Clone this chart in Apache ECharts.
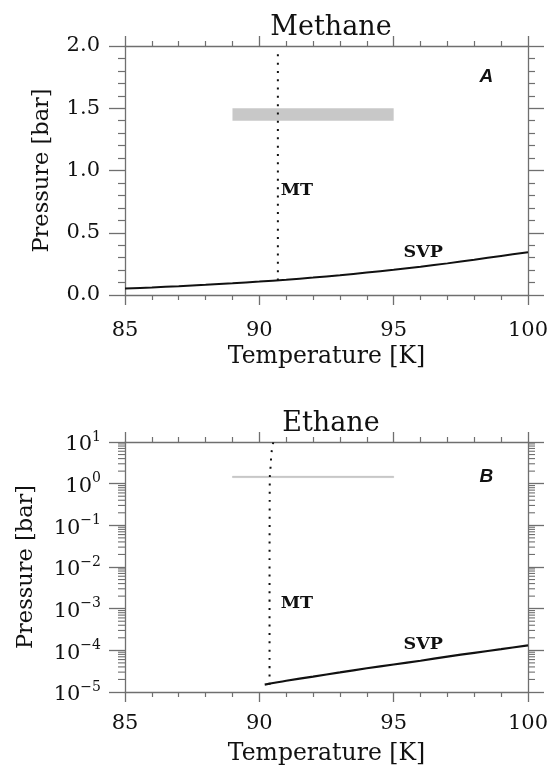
<!DOCTYPE html>
<html><head><meta charset="utf-8">
<script src="https://cdn.jsdelivr.net/npm/echarts@6/dist/echarts.min.js"></script>
<style>html,body{margin:0;padding:0;background:#fff}#c{width:556px;height:766px}</style>
</head><body><div id="c"></div>
<script>
// ---- data ----
const titles = ['Methane', 'Ethane'];
const xName = 'Temperature [K]';
const yName = 'Pressure [bar]';
const xTicks = [85, 90, 95, 100];
const ch4Ticks = [0.0, 0.5, 1.0, 1.5, 2.0];
const c2h6Decades = [-5, -4, -3, -2, -1, 0, 1];
const minorMultipliers = [2, 3, 4, 5, 6, 7, 8, 9];

// Methane saturation vapour pressure (SVP)
const ch4SvpT = [85, 86, 87, 88, 89, 90, 91, 92, 93, 94, 95, 96, 97, 98, 99, 100];
const ch4SvpP = [0.052, 0.061, 0.071, 0.082, 0.094, 0.108, 0.123, 0.140, 0.159, 0.180, 0.202, 0.227, 0.254, 0.283, 0.314, 0.344];
// Methane melting temperature (MT)
const ch4MtT = [90.69, 90.69];
const ch4MtP = [0.117, 1.97];

// Ethane SVP
const c2h6SvpT = [90.2, 91, 92, 93, 94, 95, 96, 97, 98, 99, 100];
const c2h6SvpP = [1.51e-5, 1.86e-5, 2.34e-5, 2.95e-5, 3.72e-5, 4.57e-5, 5.62e-5, 7.08e-5, 8.71e-5, 1.07e-4, 1.32e-4];
// Ethane MT
const c2h6MtT = [90.38, 90.38, 90.385, 90.39, 90.41, 90.43, 90.45, 90.50, 90.52];
const c2h6MtP = [1.5e-5, 1e-2, 0.3, 1.36, 2.1, 3.4, 5.3, 8.5, 9.8];

// Surface condition band
const bandT = [89, 95];
const bandP = [1.4, 1.5];

// annotations: [text, T, P]
const ch4Notes = [['MT', 91.4, 0.84], ['SVP', 96.1, 0.345]];
const c2h6Notes = [['MT', 91.4, 1.35e-3], ['SVP', 96.1, 1.4e-4]];
const panelLetters = [['A', 98.45, 1.75], ['B', 98.45, 1.5]];

// ---- chart ----
const FONT = 'DejaVu Serif';
const AX = '#6f6f6f';
const INK = '#111';

function zip(a, b) { return a.map((v, i) => [v, b[i]]); }

function xAxis(grid, pos, labels, margin, gap) {
  return {
    type: 'value', gridIndex: grid, position: pos, min: xTicks[0], max: xTicks[xTicks.length - 1], interval: 5,
    axisLine: { show: true, onZero: false, lineStyle: { color: AX, width: 1.3 } },
    axisTick: { show: true, inside: false, length: 10, lineStyle: { color: AX, width: 1.3 } },
    minorTick: { show: true, splitNumber: 5, length: 5, lineStyle: { color: AX, width: 1.2 } },
    splitLine: { show: false }, minorSplitLine: { show: false },
    axisLabel: { show: labels, margin: margin, fontFamily: FONT, fontSize: 21, lineHeight: 21, color: INK },
    name: labels ? xName : '', nameLocation: 'middle', nameGap: gap,
    nameTextStyle: { fontFamily: FONT, fontSize: 23.5, color: INK }
  };
}
function yLin(grid, pos, labels) {
  return {
    type: 'value', gridIndex: grid, position: pos, min: ch4Ticks[0], max: ch4Ticks[ch4Ticks.length - 1], interval: 0.5,
    axisLine: { show: true, onZero: false, lineStyle: { color: AX, width: 1.3 } },
    axisTick: { show: true, inside: false, length: 16, lineStyle: { color: AX, width: 1.3 } },
    minorTick: { show: true, splitNumber: 5, length: 7, lineStyle: { color: AX, width: 1.2 } },
    splitLine: { show: false }, minorSplitLine: { show: false },
    axisLabel: { show: labels, margin: 25, fontFamily: FONT, fontSize: 21, color: INK, formatter: v => v.toFixed(1) },
    name: labels ? yName : '', nameLocation: 'middle', nameGap: 71, nameRotate: 90,
    nameTextStyle: { fontFamily: FONT, fontSize: 22.5, color: INK }
  };
}
function yLog(grid, pos, labels) {
  return {
    type: 'log', logBase: 10, gridIndex: grid, position: pos,
    min: Math.pow(10, c2h6Decades[0]), max: Math.pow(10, c2h6Decades[c2h6Decades.length - 1]), splitNumber: 6,
    axisLine: { show: true, onZero: false, lineStyle: { color: AX, width: 1.3 } },
    axisTick: { show: true, inside: false, length: 16, lineStyle: { color: AX, width: 1.3 } },
    splitLine: { show: false },
    axisLabel: {
      show: labels, margin: 24, showMinLabel: true, showMaxLabel: true,
      padding: [6, 0, 0, 0],
      formatter: v => { const e = Math.round(Math.log10(v)); return '{b|10}{s|' + (e < 0 ? '\u2212' + (-e) : e) + '}'; },
      rich: {
        b: { fontFamily: FONT, fontSize: 21, lineHeight: 30, color: INK },
        s: { fontFamily: FONT, fontSize: 14, lineHeight: 14, verticalAlign: 'top', color: INK }
      }
    },
    name: labels ? yName : '', nameLocation: 'middle', nameGap: 87, nameRotate: 90,
    nameTextStyle: { fontFamily: FONT, fontSize: 22.5, color: INK }
  };
}

const minorTickVals = [];
c2h6Decades.slice(0, -1).forEach(d => minorMultipliers.forEach(m => minorTickVals.push([xTicks[0], m * Math.pow(10, d)])));

const dotted = { color: INK, width: 2, type: [2, 6.3], cap: 'butt' };

const option = {
  animation: false,
  backgroundColor: '#fff',
  title: [
    { text: titles[0], left: 326, top: 9, textAlign: 'center', textStyle: { fontFamily: FONT, fontSize: 27, fontWeight: 'normal', color: INK } },
    { text: titles[1], left: 326, top: 405, textAlign: 'center', textStyle: { fontFamily: FONT, fontSize: 27, fontWeight: 'normal', color: INK } }
  ],
  grid: [
    { left: 125, top: 46, width: 403, height: 249, outerBoundsMode: 'none' },
    { left: 125, top: 442, width: 403, height: 250, outerBoundsMode: 'none' }
  ],
  xAxis: [xAxis(0, 'bottom', true, 25, 50), xAxis(0, 'top', false, 8, 0), xAxis(1, 'bottom', true, 21, 50), xAxis(1, 'top', false, 8, 0)],
  yAxis: [yLin(0, 'left', true), yLin(0, 'right', false), yLog(1, 'left', true), yLog(1, 'right', false)],
  series: [
    { type: 'line', xAxisIndex: 0, yAxisIndex: 0, data: [], silent: true,
      markArea: { silent: true, itemStyle: { color: '#c8c8c8' }, data: [[{ coord: [bandT[0], bandP[0]] }, { coord: [bandT[1], bandP[1]] }]] } },
    { type: 'line', xAxisIndex: 0, yAxisIndex: 0, data: zip(ch4SvpT, ch4SvpP), showSymbol: false, smooth: 0.3, silent: true, lineStyle: { color: INK, width: 2 } },
    { type: 'line', xAxisIndex: 0, yAxisIndex: 0, data: zip(ch4MtT, ch4MtP), showSymbol: false, silent: true, lineStyle: dotted },

    { type: 'line', xAxisIndex: 2, yAxisIndex: 2, data: [], silent: true,
      markArea: { silent: true, itemStyle: { color: '#c0c0c0', borderColor: '#c0c0c0', borderWidth: 0.6 }, data: [[{ coord: [bandT[0], bandP[0]] }, { coord: [bandT[1], bandP[1]] }]] } },
    { type: 'line', xAxisIndex: 2, yAxisIndex: 2, data: zip(c2h6SvpT, c2h6SvpP), showSymbol: false, smooth: 0.3, silent: true, lineStyle: { color: INK, width: 2.2 } },
    { type: 'line', xAxisIndex: 2, yAxisIndex: 2, data: zip(c2h6MtT, c2h6MtP), showSymbol: false, smooth: 0.4, silent: true, lineStyle: dotted },
    { type: 'custom', xAxisIndex: 2, yAxisIndex: 2, silent: true, clip: false, data: minorTickVals,
      renderItem: (params, api) => {
        const v = api.value(1);
        const pL = api.coord([xTicks[0], v]);
        const pR = api.coord([xTicks[xTicks.length - 1], v]);
        const st = { stroke: AX, lineWidth: 1.1 };
        return { type: 'group', children: [
          { type: 'line', shape: { x1: pL[0] - 7, y1: pL[1], x2: pL[0], y2: pL[1] }, style: st },
          { type: 'line', shape: { x1: pR[0], y1: pR[1], x2: pR[0] + 7, y2: pR[1] }, style: st }
        ] };
      } }
  ]
};
const chart = echarts.init(document.getElementById('c'), null, { renderer: 'canvas' });
chart.setOption(option);

// text annotations placed through the axes' own scales
function textEl(note, xi, yi, font) {
  const p = chart.convertToPixel({ xAxisIndex: xi, yAxisIndex: yi }, [note[1], note[2]]);
  return { type: 'text', x: p[0], y: p[1], z: 100, silent: true,
    style: { text: note[0], font: font, fill: INK, align: 'center', verticalAlign: 'middle' } };
}
const noteFont = 'bold 17.5px "DejaVu Serif"';
const letterFont = 'italic bold 19px "Liberation Sans"';
const els = [];
ch4Notes.forEach(n => els.push(textEl(n, 0, 0, noteFont)));
c2h6Notes.forEach(n => els.push(textEl(n, 2, 2, noteFont)));
els.push(textEl(panelLetters[0], 0, 0, letterFont));
els.push(textEl(panelLetters[1], 2, 2, letterFont));
chart.setOption({ graphic: { elements: els } });
</script>
</body></html>
